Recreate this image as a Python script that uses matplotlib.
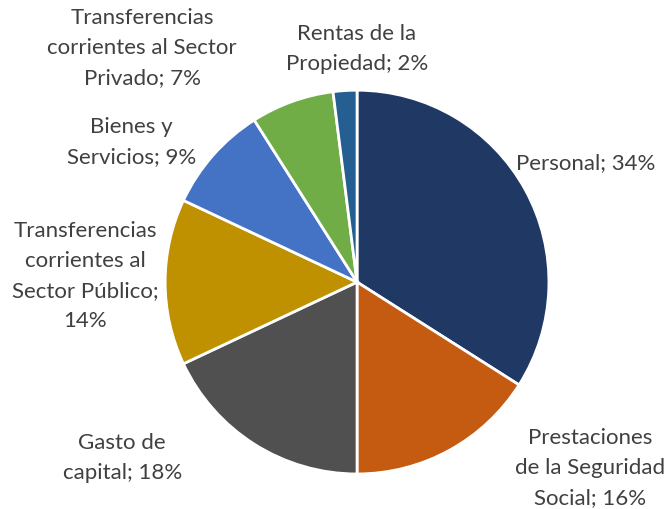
import matplotlib
matplotlib.use("Agg")
import matplotlib.pyplot as plt

categories = ["Personal", "Prestaciones\nde la Seguridad\nSocial", "Gasto de\ncapital",
              "Transferencias\ncorrientes al\nSector Público;", "Bienes y\nServicios",
              "Transferencias\ncorrientes al Sector\nPrivado", "Rentas de la\nPropiedad"]
values = [34, 16, 18, 14, 9, 7, 2]
colors = ["#1F3864", "#C55A11", "#505050", "#BF9000", "#4472C4", "#70AD47", "#255E91"]

# label centre positions (pie radius units)
label_pos = [(1.193, 0.620), (1.214, -0.969), (-1.224, -0.917), (-1.417, 0.031),
             (-1.177, 0.729), (-1.120, 1.219), (0.0, 1.214)]

fig = plt.figure(figsize=(6.68, 5.09), dpi=100)
ax = fig.add_axes([0.247, 0.0688, 0.575, 0.754])
ax.pie(values, colors=colors, startangle=90, counterclock=False,
       wedgeprops=dict(edgecolor="white", linewidth=2.0))
ax.set_xlim(-1, 1)
ax.set_ylim(-1, 1)
ax.set_aspect("equal")
ax.axis("off")

for cat, v, (x, y) in zip(categories, values, label_pos):
    sep = "\n" if cat.endswith(";") else "; "
    txt = f"{cat}{sep}{v}%"
    ax.text(x, y, txt, ha="center", va="center", multialignment="center",
            fontsize=16, family="Lato", color="#404040", linespacing=1.62, clip_on=False)

fig.savefig("out.png", dpi=100)
